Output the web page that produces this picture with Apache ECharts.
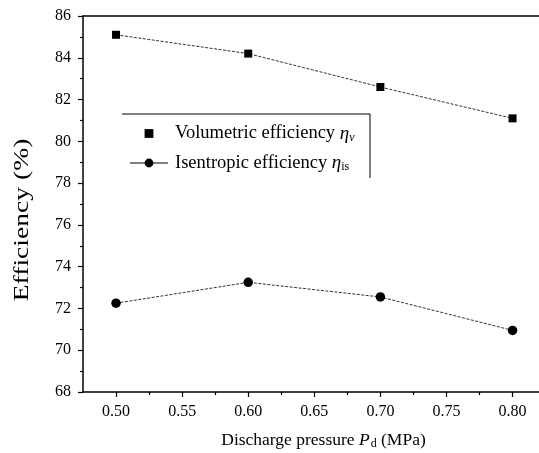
<!DOCTYPE html>
<html><head><meta charset="utf-8">
<script src="https://cdn.jsdelivr.net/npm/echarts@6/dist/echarts.min.js"></script>
<style>html,body{margin:0;padding:0;background:#fff}#c{width:539px;height:453px}</style>
</head><body><div id="c"></div>
<script>
const pressures = [0.50, 0.60, 0.70, 0.80];
const volumetric = [85.1, 84.2, 82.6, 81.1];
const isentropic = [72.25, 73.25, 72.55, 70.95];
const xMajorTicks = [0.50, 0.55, 0.60, 0.65, 0.70, 0.75, 0.80];
const xMinorTicks = [0.525, 0.575, 0.625, 0.675, 0.725, 0.775];
const yTitle = 'Efficiency (%)';
const FONT = 'Liberation Serif';

const chart = echarts.init(document.getElementById('c'), null, {renderer: 'canvas'});
const pair = (xs, ys) => xs.map((x, i) => [x, ys[i]]);
const lineStyle = {color: '#333', width: 1, type: [3, 1.5]};

chart.setOption({
  animation: false,
  backgroundColor: '#fff',
  grid: {left: 83, right: 0, top: 16, bottom: 61, outerBoundsMode: 'none', containLabel: false},
  xAxis: [
    {
      type: 'value', min: 0.475, max: 0.82, position: 'bottom',
      axisLine: {show: true, onZero: false, lineStyle: {color: '#000', width: 1.5}},
      axisTick: {show: true, inside: false, length: 5, customValues: xMajorTicks, lineStyle: {color: '#000', width: 1.2}},
      axisLabel: {customValues: xMajorTicks, formatter: v => v.toFixed(2), fontFamily: FONT, fontSize: 16, color: '#000', margin: 12},
      splitLine: {show: false},
      name: '{t|Discharge pressure }{i|P}{s|d}{t| (MPa)}',
      nameLocation: 'middle', nameGap: 38,
      nameTextStyle: {
        padding: [0, 0, 0, 25],
        rich: {
          t: {fontFamily: FONT, fontSize: 17.5, color: '#000'},
          i: {fontFamily: FONT, fontSize: 17.5, fontStyle: 'italic', color: '#000'},
          s: {fontFamily: FONT, fontSize: 12, color: '#000', verticalAlign: 'bottom', padding: [8, 0, 0, 1]}
        }
      }
    },
    {
      type: 'value', min: 0.475, max: 0.82, position: 'bottom',
      axisLine: {show: false},
      axisTick: {show: true, inside: false, length: 3, customValues: xMinorTicks, lineStyle: {color: '#000', width: 1.2}},
      axisLabel: {show: false}, splitLine: {show: false}
    },
    {
      type: 'value', min: 0.475, max: 0.82, position: 'top',
      axisLine: {show: true, onZero: false, lineStyle: {color: '#000', width: 1.5}},
      axisTick: {show: false}, axisLabel: {show: false}, splitLine: {show: false}
    }
  ],
  yAxis: {
    type: 'value', min: 68, max: 86, interval: 2,
    axisLine: {show: true, onZero: false, lineStyle: {color: '#000', width: 1.5}},
    axisTick: {show: true, inside: false, length: 5, lineStyle: {color: '#000', width: 1.2}},
    minorTick: {show: true, splitNumber: 2, length: 3, lineStyle: {color: '#000', width: 1.2}},
    axisLabel: {fontFamily: FONT, fontSize: 16, color: '#000', margin: 12},
    splitLine: {show: false}
  },
  legend: {
    orient: 'vertical', left: 124, top: 119, itemGap: 10,
    itemWidth: 38, itemHeight: 11,
    data: [
      {name: 'vol', lineStyle: {opacity: 0}},
      {name: 'ise', lineStyle: {type: 'solid', color: '#000', width: 1}}
    ],
    formatter: n => n === 'vol'
      ? '{t|Volumetric efficiency }{i|η}{si|v}'
      : '{t|Isentropic efficiency }{i|η}{s|is}',
    textStyle: {
      color: '#000', padding: [0, 0, 0, 2],
      rich: {
        t: {fontFamily: FONT, fontSize: 18.5, color: '#000'},
        i: {fontFamily: FONT, fontSize: 19, fontStyle: 'italic', color: '#000'},
        si: {fontFamily: FONT, fontSize: 12, fontStyle: 'italic', color: '#000', verticalAlign: 'bottom', padding: [8, 0, 0, 0]},
        s: {fontFamily: FONT, fontSize: 12, color: '#000', verticalAlign: 'bottom', padding: [8, 0, 0, 0]}
      }
    }
  },
  graphic: [
    {type: 'polyline', silent: true, shape: {points: [[122, 114], [370, 114], [370, 178]]},
     style: {stroke: '#000', lineWidth: 1, fill: null}},
    {type: 'text', silent: true, x: 23, y: 220, rotation: Math.PI / 2, scaleX: 1.15, scaleY: 0.86,
     style: {text: yTitle, fontFamily: FONT, fontSize: 24, fill: '#000', align: 'center', verticalAlign: 'middle'}}
  ],
  series: [
    {
      name: 'vol', type: 'line', xAxisIndex: 0,
      data: pair(pressures, volumetric),
      symbol: 'rect', symbolSize: 8,
      itemStyle: {color: '#000'}, lineStyle: lineStyle
    },
    {
      name: 'ise', type: 'line', xAxisIndex: 0,
      data: pair(pressures, isentropic),
      symbol: 'circle', symbolSize: 9.5,
      itemStyle: {color: '#000'}, lineStyle: lineStyle
    }
  ]
});
</script></body></html>
